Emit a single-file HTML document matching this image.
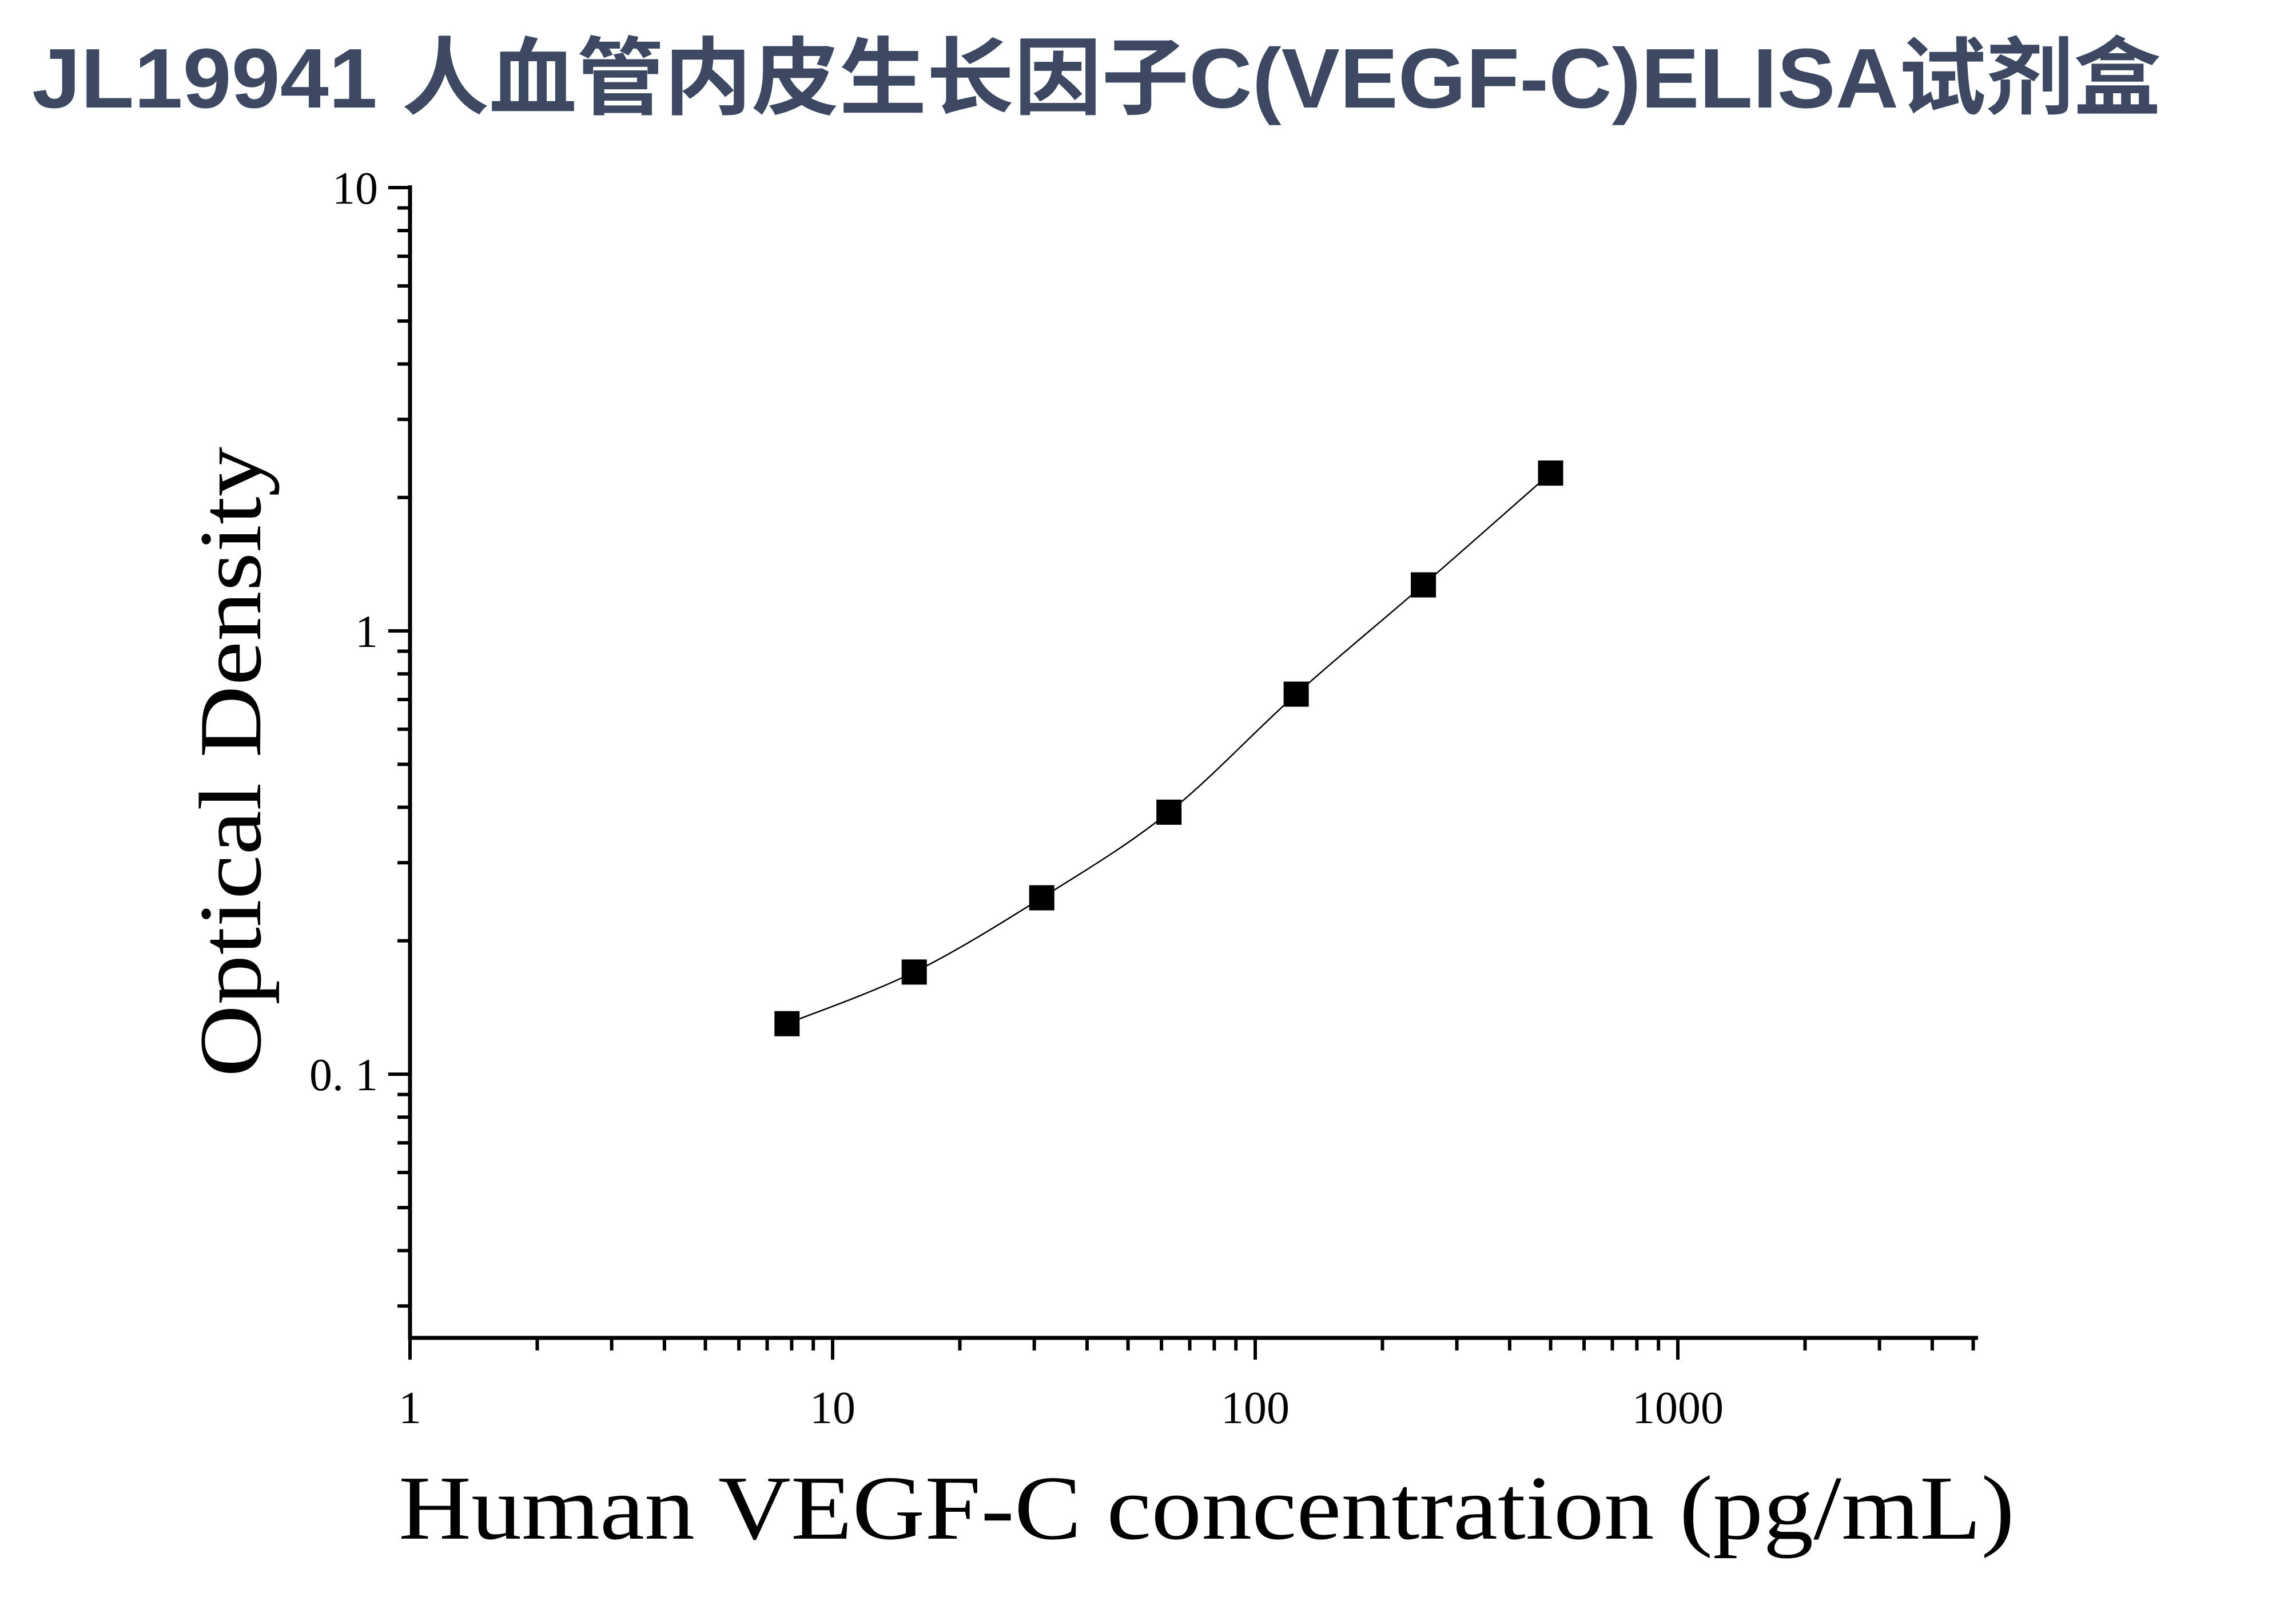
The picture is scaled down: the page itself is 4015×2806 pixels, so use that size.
<!DOCTYPE html>
<html><head><meta charset="utf-8"><style>
html,body{margin:0;padding:0;background:#fff;}
svg{display:block}
</style></head><body>
<svg id="s" width="4015" height="2806" viewBox="0 0 4015 2806" xmlns="http://www.w3.org/2000/svg">
<rect width="4015" height="2806" fill="#fff"/>
<text x="56" y="188" textLength="3723" lengthAdjust="spacingAndGlyphs" font-family="'Liberation Sans','Noto Sans CJK SC',sans-serif" font-weight="bold" font-size="148" fill="#3d4963">JL19941 人血管内皮生长因子C(VEGF-C)ELISA试剂盒</text>
<g id="g"></g>
<text x="697" y="2690" textLength="2826" lengthAdjust="spacingAndGlyphs" font-family="'Liberation Serif',serif" font-size="160" fill="#000">Human VEGF-C concentration (pg/mL)</text>
<text transform="translate(455,1332) rotate(-90)" text-anchor="middle" font-family="'Liberation Serif',serif" font-size="155" fill="#000" textLength="1102" lengthAdjust="spacingAndGlyphs">Optical Density</text>
</svg>
<script>
var X0=717,DX=739,Y10=328,DY=775,XA=2339,XR=3459;
function px(v){return X0+Math.log10(v)*DX}
function py(v){return Y10+(1-Math.log10(v))*DY}
var h='';
h+='<line x1="'+X0+'" y1="'+(Y10-4)+'" x2="'+X0+'" y2="'+(XA+3)+'" stroke="#000" stroke-width="7"/>';
h+='<line x1="'+(X0-3)+'" y1="'+XA+'" x2="'+XR+'" y2="'+XA+'" stroke="#000" stroke-width="7"/>';
[0.01,0.1,1].forEach(function(d){for(var k=1;k<=10;k++){var v=d*k;var y=py(v);if(y>XA-2||y<Y10-2)continue;var L=(k==1||k==10)?38:22;h+='<line x1="'+(X0-L)+'" y1="'+y+'" x2="'+X0+'" y2="'+y+'" stroke="#000" stroke-width="6"/>';}});
[[10,'10'],[1,'1'],[0.1,'0. 1']].forEach(function(a){h+='<text x="661" y="'+(py(a[0])+28)+'" text-anchor="end" font-family="Liberation Serif,serif" font-size="80">'+a[1]+'</text>';});
[1,10,100,1000].forEach(function(d){for(var k=1;k<=9;k++){var v=d*k;var x=px(v);if(x>XR+2)continue;var L=(k==1)?38:22;h+='<line x1="'+x+'" y1="'+XA+'" x2="'+x+'" y2="'+(XA+L)+'" stroke="#000" stroke-width="6"/>';}});
[[1,'1'],[10,'10'],[100,'100'],[1000,'1000']].forEach(function(a){h+='<text x="'+px(a[0])+'" y="2488" text-anchor="middle" font-family="Liberation Serif,serif" font-size="80">'+a[1]+'</text>';});
var D=[[7.8,0.13],[15.6,0.17],[31.25,0.25],[62.5,0.39],[125,0.72],[250,1.27],[500,2.27]];
var P=D.map(function(d){return [px(d[0]),py(d[1])]});
var path='M'+P[0][0]+','+P[0][1];
for(var i=0;i<P.length-1;i++){var p0=P[i-1]||P[i],p1=P[i],p2=P[i+1],p3=P[i+2]||P[i+1];
var c1=[p1[0]+(p2[0]-p0[0])/6,p1[1]+(p2[1]-p0[1])/6],c2=[p2[0]-(p3[0]-p1[0])/6,p2[1]-(p3[1]-p1[1])/6];
path+=' C'+c1+' '+c2+' '+p2;}
h+='<path d="'+path+'" fill="none" stroke="#000" stroke-width="2.5"/>';
P.forEach(function(p){h+='<rect x="'+(p[0]-22)+'" y="'+(p[1]-22)+'" width="44" height="44" fill="#000"/>';});
document.getElementById('g').innerHTML=h;
</script>
</body></html>
